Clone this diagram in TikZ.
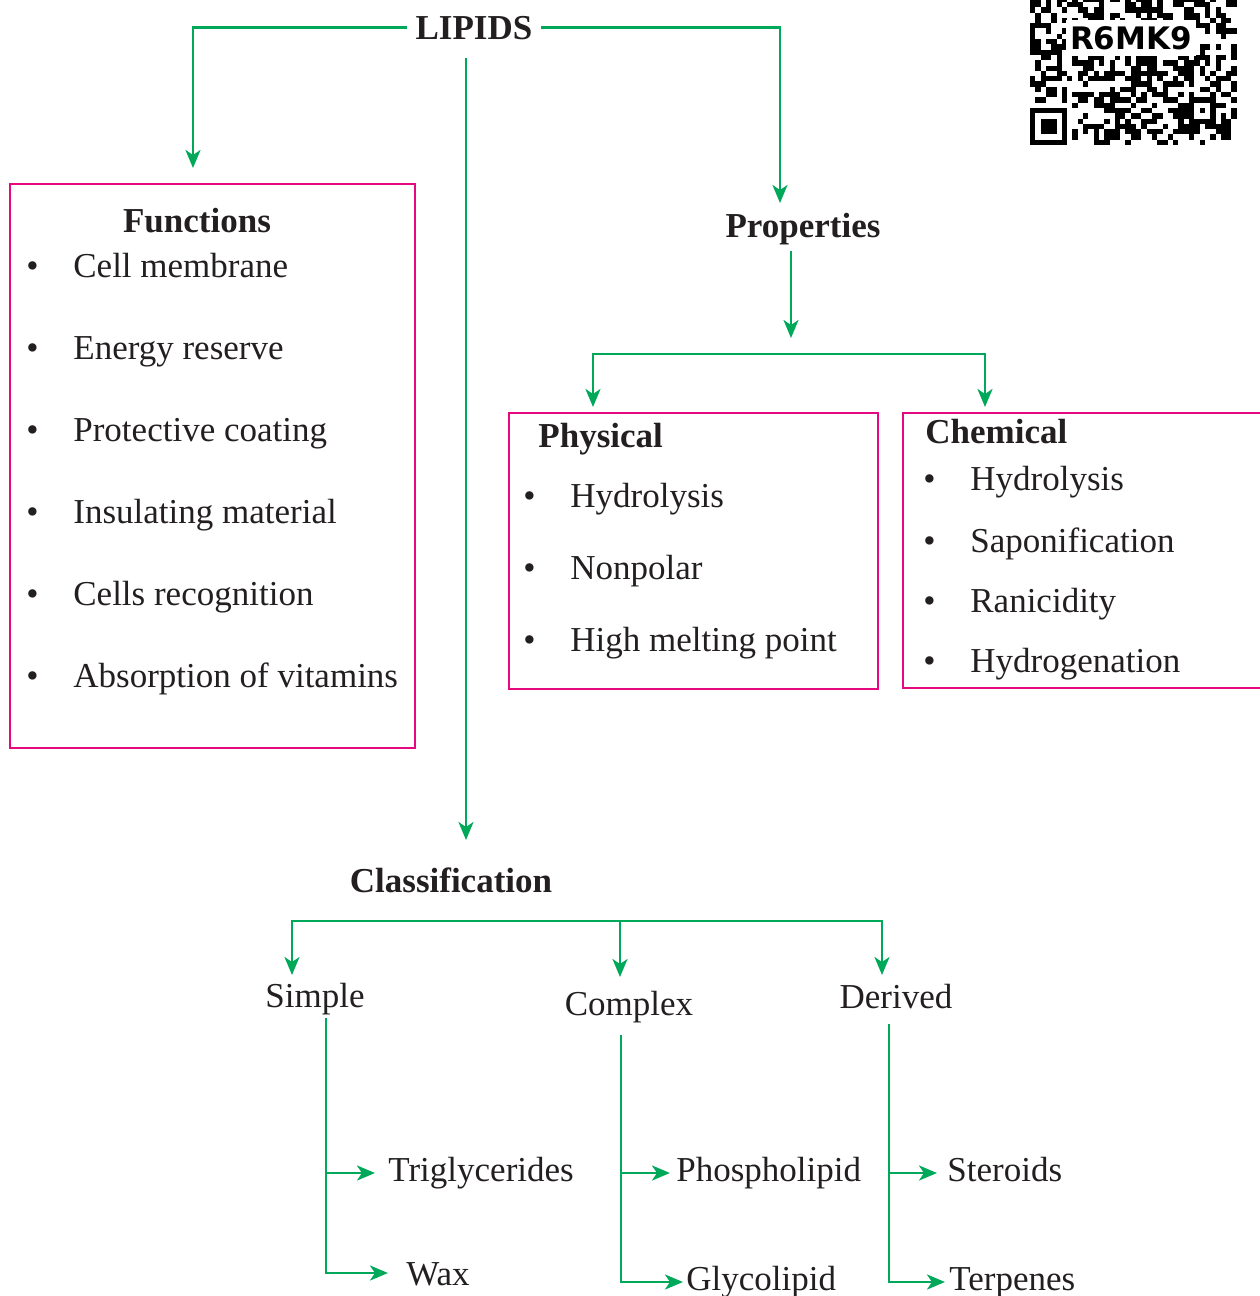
\documentclass[tikz,border=0pt]{standalone}
\usepackage{fontspec}
\setmainfont{Liberation Serif}
\newfontfamily\qrfont{DejaVu Sans}
\usetikzlibrary{arrows.meta,positioning}
\definecolor{Ink}{HTML}{231F20}
\definecolor{Leaf}{HTML}{00A859}
\definecolor{Rose}{HTML}{E5097F}
\newcommand{\basesize}{\fontsize{17.5}{21}\selectfont}
\tikzset{
  headtext/.style={font=\basesize\bfseries,text=Ink,inner xsep=4pt,inner ysep=3pt,anchor=base},
  boxtitle/.style={font=\basesize\bfseries,text=Ink,inner sep=0pt,anchor=base west},
  kindtext/.style={text=Ink,inner sep=0pt,anchor=base},
  itemtext/.style={text=Ink,inner sep=0pt,anchor=base west},
  leaftext/.style={text=Ink,inner ysep=0pt,anchor=west,text height=12pt,text depth=4pt},
  listbox/.style={draw=Rose,line width=1.3pt,inner sep=0pt},
  line/.style={-{Stealth[length=9pt,width=7.5pt,inset=2.5pt]},draw=Leaf,line width=1.3pt},
  qrcell/.style={fill=black}
}
\newcommand{\itemdot}{\makebox[23.5pt][l]{\textbullet}}

\begin{document}
\begin{tikzpicture}[x=0.5pt,y=-0.5pt,font=\basesize]
  \useasboundingbox (0,0) rectangle (1259,1296);

  % QR patch in the corner
  \fill[white] (1030,0) rectangle (1236.7,145);
  \pgfmathsetseed{42}
  \foreach \c in {0,...,38}
    \foreach \r in {0,...,27}{
      \pgfmathtruncatemacro{\bit}{rnd<0.5}
      \ifnum\bit=1 \fill[qrcell] ({1030+\c*5.3},{145-\r*5.3}) rectangle ++(5.3,-5.3); \fi
    }
  \fill[white] (1030,145) rectangle (1072.4,102.6);
  \fill[qrcell] (1030,145) rectangle (1067.1,107.9);
  \fill[white] (1035.3,139.7) rectangle (1061.8,113.2);
  \fill[qrcell] (1040.6,134.4) rectangle (1056.5,118.5);
  \fill[qrcell] (1189,123.8) rectangle (1215.5,97.3);
  \fill[white] (1194.3,118.5) rectangle (1210.2,102.6);
  \fill[qrcell] (1199.6,113.2) rectangle (1204.9,107.9);
  \fill[white] (1066,20) rectangle (1196,56);
  \node[font=\qrfont\bfseries\fontsize{15.5}{18}\selectfont,inner sep=0pt] (qrcode) at (1131,38) {R6MK9};

  % root
  \node[headtext,inner ysep=9pt] (lipids) at (474,39) {LIPIDS};

  % functions
  \node[listbox,minimum width=202.5pt,minimum height=282pt] (funcs) at (212.5,466) {};
  \node[boxtitle,anchor=base] (functitle) at (197,232) {Functions};
  \node[itemtext] (func1) at (26,277) {\itemdot Cell membrane};
  \node[itemtext] (func2) at (26,359) {\itemdot Energy reserve};
  \node[itemtext] (func3) at (26,441) {\itemdot Protective coating};
  \node[itemtext] (func4) at (26,523) {\itemdot Insulating material};
  \node[itemtext] (func5) at (26,605) {\itemdot Cells recognition};
  \node[itemtext] (func6) at (26,687) {\itemdot Absorption of vitamins};

  % properties
  \node[headtext] (props) at (803,237) {Properties};
  \node[listbox,minimum width=184.5pt,minimum height=138pt] (phys) at (693.5,551) {};
  \node[boxtitle] (phystitle) at (538,447) {Physical};
  \node[itemtext] (phys1) at (523,507) {\itemdot Hydrolysis};
  \node[itemtext] (phys2) at (523,579) {\itemdot Nonpolar};
  \node[itemtext] (phys3) at (523,651) {\itemdot High melting point};
  \node[listbox,minimum width=188.5pt,minimum height=137.5pt] (chem) at (1091.5,550.5) {};
  \node[boxtitle] (chemtitle) at (925,443) {Chemical};
  \node[itemtext] (chem1) at (923,490) {\itemdot Hydrolysis};
  \node[itemtext] (chem2) at (923,552) {\itemdot Saponification};
  \node[itemtext] (chem3) at (923,612) {\itemdot Ranicidity};
  \node[itemtext] (chem4) at (923,672) {\itemdot Hydrogenation};

  % classification
  \node[headtext] (classif) at (451,892) {Classification};
  \node[kindtext] (simple) at (315,1007) {Simple};
  \node[kindtext] (complex) at (629,1015) {Complex};
  \node[kindtext] (derived) at (896,1008) {Derived};
  \node[leaftext,inner xsep=6.5pt] (trig) at (375,1173) {Triglycerides};
  \node[leaftext,inner xsep=9pt,yshift=-2pt] (wax) at (388,1273) {Wax};
  \node[leaftext,inner xsep=3pt] (phos) at (670,1173) {Phospholipid};
  \node[leaftext,inner xsep=1.5pt] (glyco) at (683,1282) {Glycolipid};
  \node[leaftext,inner xsep=5pt] (ster) at (937,1173) {Steroids};
  \node[leaftext,inner xsep=2pt] (terp) at (945,1282) {Terpenes};

  % arrows
  \coordinate (funcin) at (193,168);
  \coordinate (propin) at (780,203);
  \coordinate (classin) at (466,840);
  \draw[line] (lipids.west) -| (funcin);
  \draw[line] (lipids.east) -| (propin);
  \draw[line] (lipids.south -| classin) -- (classin);

  \coordinate (propout) at (791,338);
  \coordinate (propsplit) at (791,354);
  \coordinate (physin) at (593,407);
  \coordinate (chemin) at (985,407);
  \draw[line] (props.south -| propout) -- (propout);
  \draw[line] (propsplit) -| (physin);
  \draw[line] (propsplit) -| (chemin);

  \coordinate (classplit) at (620,921);
  \coordinate (simplein) at (292,975);
  \coordinate (complexin) at (620,977);
  \coordinate (derivedin) at (882,975);
  \draw[line] (classplit) -| (simplein);
  \draw[line] (classplit) -- (complexin);
  \draw[line] (classplit) -| (derivedin);

  \coordinate (simpletop) at (326,1018);
  \coordinate (complextop) at (621,1035);
  \coordinate (derivedtop) at (889,1024);
  \draw[line] (simpletop) |- (trig);
  \draw[line] (simpletop) |- (wax.west |- 0,1273);
  \draw[line] (complextop) |- (phos);
  \draw[line] (complextop) |- (glyco);
  \draw[line] (derivedtop) |- (ster);
  \draw[line] (derivedtop) |- (terp);
\end{tikzpicture}
\end{document}
